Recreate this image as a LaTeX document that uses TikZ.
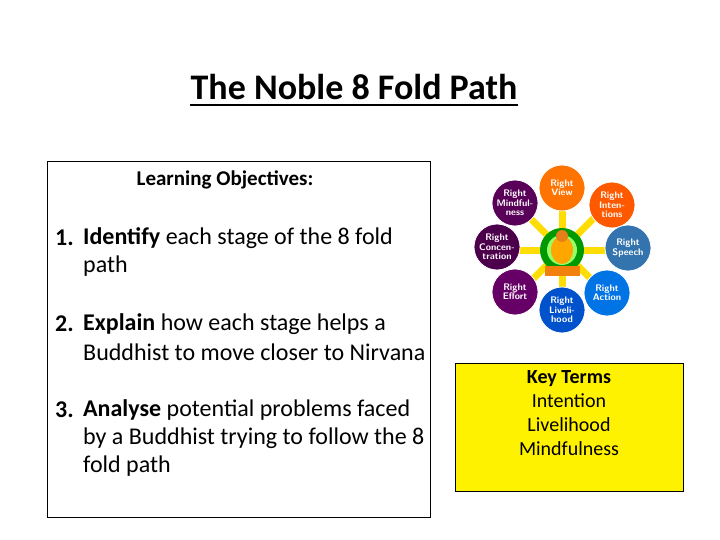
\documentclass[tikz,border=0pt]{standalone}
\usepackage{fontspec}
\setmainfont{Carlito}
\begin{document}
\begin{tikzpicture}[x=1pt,y=-1pt,
 txt/.style={anchor=west,inner sep=0,font=\fontsize{24}{28}\selectfont},
 wheel/.style={circle,minimum size=46pt,inner sep=0,text=white,align=center,font=\sffamily\bfseries\fontsize{9.5}{9.5}\selectfont,draw=white,line width=0.8pt},
 ray/.style={draw=yellow!80!orange,line width=7pt}]
\useasboundingbox (0,0) rectangle (720,540);
\node[inner sep=0,anchor=base,font=\bfseries\fontsize{36}{40}\selectfont] (title) at (354,100) {The Noble 8 Fold Path};
\draw[line width=1.4pt] ([yshift=-5pt]title.base west) -- ([yshift=-5pt]title.base east);
\node[draw,line width=0.6pt,minimum width=383pt,minimum height=356pt,anchor=north west,inner sep=0] (lbox) at (47,161) {};
\node[inner sep=0,font=\bfseries\fontsize{21}{24}\selectfont] (lo) at (225,180) {Learning Objectives:};
\node[txt] (n1) at (55,238) {\textbf{1.}};
\node[txt] (t1a) at (83,238) {\textbf{Identify} each stage of the 8 fold};
\node[txt] (t1b) at (83,266) {path};
\node[txt] (n2) at (55,324) {\textbf{2.}};
\node[txt] (t2a) at (83,324) {\textbf{Explain} how each stage helps a};
\node[txt] (t2b) at (83,352) {Buddhist to move closer to Nirvana};
\node[txt] (n3) at (55,410) {\textbf{3.}};
\node[txt] (t3a) at (83,410) {\textbf{Analyse} potential problems faced};
\node[txt] (t3b) at (83,438) {by a Buddhist trying to follow the 8};
\node[txt] (t3c) at (83,466) {fold path};
\node[draw,line width=0.6pt,fill=yellow,minimum width=228pt,minimum height=128pt,anchor=north west,inner sep=0] (kbox) at (455,363) {};
\node[inner sep=0,align=center,font=\fontsize{20}{24}\selectfont,anchor=north] (kt) at (569,370) {\textbf{Key Terms}\\Intention\\Livelihood\\Mindfulness};
% wheel
\coordinate (c) at (562,250);
\foreach \a in {0,45,...,315} \draw[ray] (c) -- ++(\a:45);
\node[circle,fill=green!60!black,minimum size=44pt,inner sep=0] (halo) at (c) {};
\node[circle,fill=green!70!yellow!60,minimum size=30pt,inner sep=0] (halo2) at (c) {};
\fill[orange!80!brown] (545,266) rectangle (580,276);
\fill[orange!70!yellow] (562,250) ellipse (11 and 14);
\fill[orange!60!brown] (562,236) circle (6);
\node[wheel,fill=orange!90!red] (v) at (562,188) {Right\\View};
\node[wheel,fill=orange!70!red] (i) at (612,205) {Right\\Inten-\\tions};
\node[wheel,fill=cyan!60!blue!80!black] (s) at (628,248) {Right\\Speech};
\node[wheel,fill=blue!50!cyan!90!black] (ac) at (607,293) {Right\\Action};
\node[wheel,fill=blue!60!cyan!80!black] (l) at (562,310) {Right\\Liveli-\\hood};
\node[wheel,fill=violet!80!black] (e) at (515,292) {Right\\Effort};
\node[wheel,fill=violet!60!black] (co) at (497,247) {Right\\Concen-\\tration};
\node[wheel,fill=violet!70!black] (m) at (515,203) {Right\\Mindful-\\ness};
\end{tikzpicture}
\end{document}
